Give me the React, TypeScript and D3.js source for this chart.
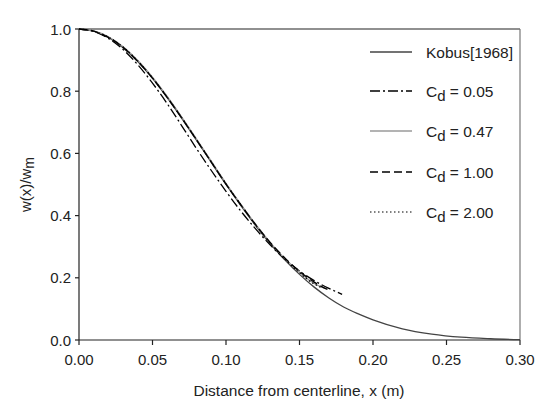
import React from "react";
import * as d3 from "d3";

const xTicks = [0, 0.05, 0.1, 0.15, 0.2, 0.25, 0.3];
const yTicks = [0, 0.2, 0.4, 0.6, 0.8, 1.0];

const kobusX = [0, 0.01, 0.02, 0.03, 0.04, 0.05, 0.06, 0.07, 0.08, 0.09, 0.1, 0.11, 0.12, 0.13, 0.14, 0.15, 0.16, 0.17, 0.18, 0.19, 0.2, 0.22, 0.24, 0.26, 0.28, 0.3];
const kobusY = [1.0, 0.993, 0.973, 0.94, 0.895, 0.841, 0.779, 0.712, 0.642, 0.571, 0.5, 0.433, 0.369, 0.31, 0.258, 0.211, 0.17, 0.135, 0.106, 0.084, 0.065, 0.036, 0.019, 0.009, 0.004, 0.001];

const cd005X = [0, 0.01, 0.02, 0.03, 0.04, 0.05, 0.06, 0.07, 0.08, 0.09, 0.1, 0.11, 0.12, 0.13, 0.14, 0.15, 0.16, 0.17, 0.179];
const cd005Y = [1.0, 0.992, 0.97, 0.934, 0.885, 0.826, 0.76, 0.688, 0.615, 0.545, 0.478, 0.415, 0.358, 0.306, 0.26, 0.222, 0.191, 0.166, 0.147];

const cd047X = [0, 0.01, 0.02, 0.03, 0.04, 0.05, 0.06, 0.07, 0.08, 0.09, 0.1, 0.11, 0.12, 0.13, 0.14, 0.15, 0.16, 0.168];
const cd047Y = [1.0, 0.994, 0.975, 0.943, 0.899, 0.845, 0.783, 0.716, 0.646, 0.575, 0.504, 0.437, 0.373, 0.314, 0.262, 0.218, 0.182, 0.165];

const cd100X = [0, 0.01, 0.02, 0.03, 0.04, 0.05, 0.06, 0.07, 0.08, 0.09, 0.1, 0.11, 0.12, 0.13, 0.14, 0.15, 0.16, 0.17];
const cd100Y = [1.0, 0.993, 0.973, 0.941, 0.896, 0.842, 0.78, 0.713, 0.643, 0.572, 0.501, 0.435, 0.372, 0.314, 0.264, 0.221, 0.186, 0.16];

const cd200X = [0, 0.01, 0.02, 0.03, 0.04, 0.05, 0.06, 0.07, 0.08, 0.09, 0.1, 0.11, 0.12, 0.13, 0.14, 0.15, 0.16, 0.165];
const cd200Y = [1.0, 0.993, 0.974, 0.942, 0.897, 0.843, 0.781, 0.714, 0.644, 0.573, 0.502, 0.436, 0.371, 0.312, 0.26, 0.216, 0.18, 0.168];

const series = [
  { label: "Kobus[1968]", sub: false, val: "", xs: kobusX, ys: kobusY, color: "#444", dash: "", width: 1.3 },
  { label: "C", sub: true, val: " = 0.05", xs: cd005X, ys: cd005Y, color: "#000", dash: "10,3,2,3", width: 1.3 },
  { label: "C", sub: true, val: " = 0.47", xs: cd047X, ys: cd047Y, color: "#9a9a9a", dash: "", width: 1.3 },
  { label: "C", sub: true, val: " = 1.00", xs: cd100X, ys: cd100Y, color: "#000", dash: "8,4", width: 1.4 },
  { label: "C", sub: true, val: " = 2.00", xs: cd200X, ys: cd200Y, color: "#000", dash: "1.5,2.5", width: 1.2 },
];

const W = 557, H = 409;
const L = 79, R = 520, T = 29, B = 340;
const font = "'Liberation Sans', Arial, sans-serif";

export default function App() {
  const x = d3.scaleLinear().domain([0, 0.3]).range([L, R]);
  const y = d3.scaleLinear().domain([0, 1]).range([B, T]);
  const line = d3.line<[number, number]>().x(d => x(d[0])).y(d => y(d[1])).curve(d3.curveMonotoneX);
  const legendY = [52, 91, 131, 172, 212];
  return (
    <svg width={W} height={H} style={{ position: "absolute", left: 0, top: 0, background: "#fff" }} fontFamily={font}>
      {/* frame */}
      <line x1={L} x2={R} y1={T} y2={T} stroke="#222" strokeWidth={1.2} />
      <line x1={R} x2={R} y1={T} y2={B} stroke="#777" strokeWidth={1.2} />
      <line x1={L} x2={L} y1={T} y2={B} stroke="#222" strokeWidth={1.2} />
      <line x1={L} x2={R} y1={B} y2={B} stroke="#222" strokeWidth={1.2} />
      {xTicks.map(t => (
        <g key={"x" + t}>
          <line x1={x(t)} x2={x(t)} y1={B} y2={B + 5} stroke="#222" strokeWidth={1.2} />
          <text x={x(t)} y={365} textAnchor="middle" fontSize={15} fill="#222">{d3.format(".2f")(t)}</text>
        </g>
      ))}
      {yTicks.map(t => (
        <g key={"y" + t}>
          <line x1={L - 4} x2={L} y1={y(t)} y2={y(t)} stroke="#222" strokeWidth={1.2} />
          <text x={71} y={y(t) + 5.5} textAnchor="end" fontSize={15} fill="#222">{d3.format(".1f")(t)}</text>
        </g>
      ))}
      <text x={299} y={396} textAnchor="middle" fontSize={15.5} fill="#222">Distance from centerline, x (m)</text>
      <text transform={`translate(31,${(T + B) / 2}) rotate(-90)`} textAnchor="middle" fontSize={15} fill="#222">
        w(x)/w<tspan fontSize={14} dy={3}>m</tspan>
      </text>
      {series.map((s, i) => (
        <path key={"s" + i} d={line(s.xs.map((v, j) => [v, s.ys[j]]) as [number, number][]) || ""}
          fill="none" stroke={s.color} strokeWidth={s.width} strokeDasharray={s.dash} />
      ))}
      {series.map((s, i) => (
        <g key={"l" + i}>
          <line x1={370} x2={412} y1={legendY[i]} y2={legendY[i]} stroke={s.color} strokeWidth={s.width} strokeDasharray={s.dash} />
          <text x={426} y={legendY[i] + 5.5} fontSize={15.5} fill="#222">
            {s.label}
            {s.sub ? <tspan fontSize={15} dy={4}>d</tspan> : null}
            {s.sub ? <tspan dy={-4}>{s.val}</tspan> : null}
          </text>
        </g>
      ))}
    </svg>
  );
}
